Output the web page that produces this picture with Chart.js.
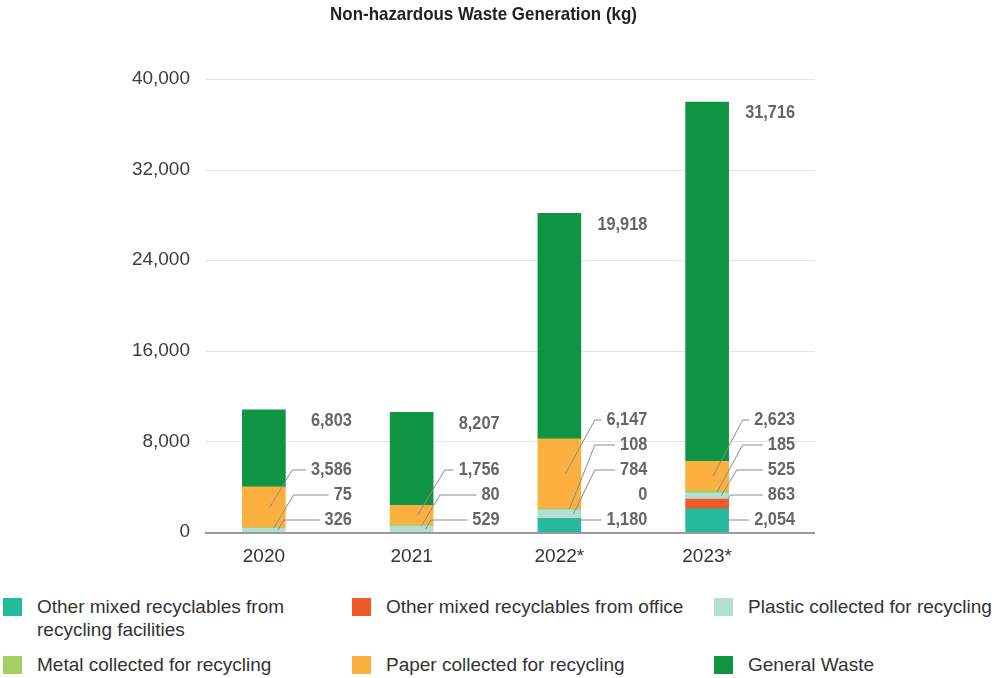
<!DOCTYPE html>
<html>
<head>
<meta charset="utf-8">
<script src="https://cdn.jsdelivr.net/npm/chart.js@4.4.0/dist/chart.umd.min.js"></script>
<style>
  body { margin: 0; background: #fff; }
  #wrap { position: relative; width: 997px; height: 678px; overflow: hidden; }
  #chart { position: absolute; left: 0; top: 0; }
  #legend {
    position: absolute; left: 3px; top: 595px;
    display: grid; grid-template-columns: 349px 362px 280px; row-gap: 12px;
    font-family: "Liberation Sans", Arial, sans-serif; font-size: 19px; line-height: 23px; color: #333;
  }
  .item { display: flex; align-items: flex-start; }
  .box { width: 19px; height: 18px; margin-top: 3px; margin-right: 15px; flex: none; }
  .txt { max-width: 290px; }
  .nowrap { white-space: nowrap; }
</style>
</head>
<body>
<div id="wrap">
  <canvas id="chart" width="997" height="590"></canvas>
  <div id="legend"></div>
</div>
<script>
const years = ["2020", "2021", "2022*", "2023*"];

// bottom to top of each stack
const seriesNames = [
  "Other mixed recyclables from recycling facilities",
  "Other mixed recyclables from office",
  "Plastic collected for recycling",
  "Metal collected for recycling",
  "Paper collected for recycling",
  "General Waste"
];
const facilities = [null, null, 1180, 2054];
const office = [null, null, 0, 863];
const plastic = [326, 529, 784, 525];
const metal = [75, 80, 108, 185];
const paper = [3586, 1756, 6147, 2623];
const general = [6803, 8207, 19918, 31716];

const yTicks = [0, 8000, 16000, 24000, 32000, 40000];

const colors = ["#23bb9b", "#f05a28", "#b2dfd1", "#a4cf63", "#fbb040", "#0f9444"];
const allSeries = [facilities, office, plastic, metal, paper, general];

const TITLE = "Non-hazardous Waste Generation (kg)";
const LABEL_GAP = 25;
const fmt = v => v.toLocaleString("en-US");

// the original uses a condensed face, so squeeze the text sideways
function narrowText(ctx, txt, x, y, squeeze) {
  ctx.save();
  ctx.translate(x, y);
  ctx.scale(squeeze, 1);
  ctx.fillText(txt, 0, 0);
  ctx.restore();
  return ctx.measureText(txt).width * squeeze;
}

// gridlines + axis drawn wider than the plot area, like the original
const gridPlugin = {
  id: "grid",
  beforeDatasetsDraw(chart) {
    const { ctx, chartArea, scales: { y } } = chart;
    ctx.save();
    ctx.strokeStyle = "#e4e4e4";
    ctx.lineWidth = 1;
    yTicks.slice(1).forEach(t => {
      const py = Math.round(y.getPixelForValue(t)) + 0.5;
      ctx.beginPath();
      ctx.moveTo(chartArea.left + 15, py);
      ctx.lineTo(chartArea.right + 34, py);
      ctx.stroke();
    });
    ctx.restore();
  },
  afterDatasetsDraw(chart) {
    const { ctx, chartArea, scales: { y } } = chart;
    const axisY = y.getPixelForValue(0);
    ctx.save();
    ctx.strokeStyle = "#9a9a9a";
    ctx.lineWidth = 2;
    ctx.beginPath();
    ctx.moveTo(chartArea.left + 15, axisY + 1);
    ctx.lineTo(chartArea.right + 34, axisY + 1);
    ctx.stroke();

    // title
    ctx.font = 'bold 18.6px "Liberation Sans", Arial, sans-serif';
    ctx.fillStyle = "#222";
    ctx.textAlign = "center";
    ctx.textBaseline = "alphabetic";
    narrowText(ctx, TITLE, (chartArea.left + chartArea.right) / 2 - 2, 20, 0.91);

    // value labels with leader lines
    ctx.font = 'bold 19px "Liberation Sans", Arial, sans-serif';
    ctx.fillStyle = "#666";
    ctx.textAlign = "right";
    ctx.textBaseline = "middle";
    ctx.strokeStyle = "#8c8c8c";
    ctx.lineWidth = 1;
    years.forEach((yr, i) => {
      const top = chart.getDatasetMeta(5).data[i];
      const right = top.x + 88;
      narrowText(ctx, fmt(general[i]), right, top.y + 11, 0.86);

      let lastY = axisY - 12 + LABEL_GAP;
      for (let d = 0; d < 5; d++) {
        const v = allSeries[d][i];
        if (v === null) continue;
        const el = chart.getDatasetMeta(d).data[i];
        const mid = (el.y + el.base) / 2;
        const ly = Math.min(mid, lastY - LABEL_GAP);
        lastY = ly;
        const txt = fmt(v);
        const w = narrowText(ctx, txt, right, ly, 0.86);
        if (v === 0) continue;
        const textLeft = right - w - 5;
        const ax = el.x + Math.min(6 + 4 * (4 - d), 18);
        const ex = Math.min(ax + (mid - ly) * 0.6, el.x + el.width / 2 + 14);
        ctx.beginPath();
        ctx.moveTo(ax, mid);
        ctx.lineTo(ex, ly);
        ctx.lineTo(textLeft, ly);
        ctx.stroke();
      }
    });
    ctx.restore();
  }
};

new Chart(document.getElementById("chart"), {
  type: "bar",
  data: {
    labels: years,
    datasets: allSeries.map((s, k) => ({
      label: seriesNames[k],
      data: s,
      backgroundColor: colors[k],
      borderWidth: 0,
      barThickness: 43
    }))
  },
  options: {
    responsive: false,
    animation: false,
    layout: { padding: { left: 4, right: 216, top: 79, bottom: 18 } },
    plugins: {
      legend: { display: false },
      tooltip: { enabled: false },
      title: { display: false }
    },
    scales: {
      x: {
        stacked: true,
        grid: { display: false, drawTicks: false },
        border: { display: false },
        ticks: { color: "#333", padding: 13, font: { family: "Liberation Sans", size: 19 } },
        afterFit(scale) { scale.height = 40; }
      },
      y: {
        stacked: true,
        min: 0,
        max: 40000,
        grid: { display: false, drawTicks: false },
        border: { display: false },
        afterBuildTicks(scale) { scale.ticks = yTicks.map(v => ({ value: v })); },
        ticks: {
          color: "#3c3c3c",
          padding: 0,
          font: { family: "Liberation Sans", size: 19 },
          callback: v => fmt(v)
        },
        afterFit(scale) { scale.width = 186; }
      }
    }
  },
  plugins: [gridPlugin]
});

// legend: three columns, two rows
const legend = document.getElementById("legend");
seriesNames.forEach((name, k) => {
  const item = document.createElement("div");
  item.className = "item";
  item.innerHTML = `<span class="box" style="background:${colors[k]}"></span><span class="txt${k === 0 ? "" : " nowrap"}">${name}</span>`;
  legend.appendChild(item);
});
</script>
</body>
</html>
